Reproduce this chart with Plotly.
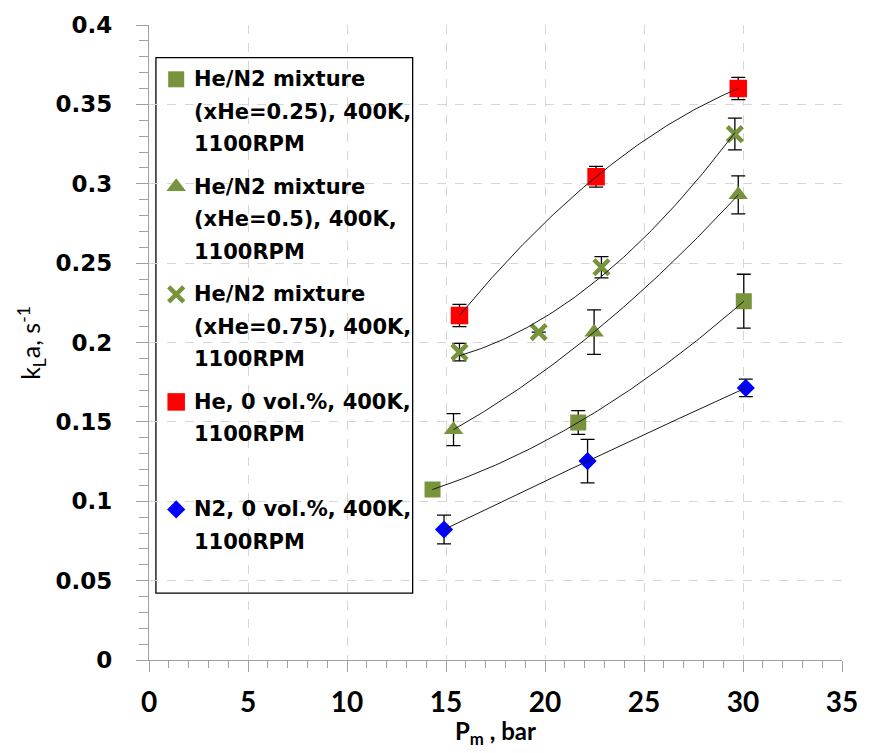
import numpy as np
import plotly.graph_objects as go

nan = float("nan")

# Mass-transfer coefficient k_L a (1/s) versus pressure P_m (bar), 400 K, 1100 RPM
p_he25 = [14.32, 21.68, 30.04]
k_he25 = [0.1074, 0.1496, 0.2260]
e_he25 = [0.0040, 0.0075, 0.0170]

p_he50 = [15.38, 22.48, 29.76]
k_he50 = [0.1451, 0.2065, 0.2930]
e_he50 = [0.0101, 0.0140, 0.0120]

p_he75 = [15.68, 19.68, 22.85, 29.59]
k_he75 = [0.1939, 0.2065, 0.2474, 0.3313]
e_he75 = [0.0055, nan, 0.0067, 0.0100]

p_he = [15.68, 22.58, 29.76]
k_he = [0.2170, 0.3044, 0.3600]
e_he = [0.0070, 0.0065, 0.0070]

p_n2 = [14.90, 22.15, 30.14]
k_n2 = [0.0822, 0.1253, 0.1714]
e_n2 = [0.0091, 0.0137, 0.0055]

legend_labels = [
    ["He/N2 mixture", "(xHe=0.25), 400K,", "1100RPM"],
    ["He/N2 mixture", "(xHe=0.5), 400K,", "1100RPM"],
    ["He/N2 mixture", "(xHe=0.75), 400K,", "1100RPM"],
    ["He, 0 vol.%, 400K,", "1100RPM"],
    ["N2, 0 vol.%, 400K,", "1100RPM"],
]

x_ticks = [0, 5, 10, 15, 20, 25, 30, 35]
y_ticks = [0, 0.05, 0.1, 0.15, 0.2, 0.25, 0.3, 0.35, 0.4]
y_tick_labels = ["0", "0.05", "0.1", "0.15", "0.2", "0.25", "0.3", "0.35", "0.4"]

GREEN = "#77933c"
RED = "#ff0000"
BLUE = "#0000ff"

m_sq_green = dict(symbol="square", size=16, color=GREEN)
m_tri = dict(symbol="triangle-up", size=17, color=GREEN)
m_x = dict(symbol="x-thin", size=15, color=GREEN, line=dict(color=GREEN, width=4.5))
m_sq_red = dict(symbol="square", size=17.5, color=RED)
m_dia = dict(symbol="diamond", size=14, color=BLUE)

series = [
    (p_he25, k_he25, e_he25, m_sq_green),
    (p_he50, k_he50, e_he50, m_tri),
    (p_he75, k_he75, e_he75, m_x),
    (p_he, k_he, e_he, m_sq_red),
    (p_n2, k_n2, e_n2, m_dia),
]

fig = go.Figure()

# data points with error bars
for p, k, e, m in series:
    fig.add_trace(go.Scatter(
        x=p, y=k, mode="markers", marker=m, showlegend=False,
        error_y=dict(type="data", array=e, visible=True, color="black",
                     thickness=1.3, width=7),
        hoverinfo="x+y",
    ))

# second-order polynomial trendlines
for p, k, e, m in series:
    c = np.polyfit(p, k, 2)
    xs = np.linspace(min(p), max(p), 120)
    fig.add_trace(go.Scatter(
        x=xs, y=np.polyval(c, xs), mode="lines",
        line=dict(color="#1a1a1a", width=1), showlegend=False, hoverinfo="skip",
    ))

# legend box drawn in pixel units over the plot area
PX_L, PX_R, PX_T, PX_B = 149, 850, 24, 660
BOX = dict(x0=156, x1=415.7, y0=56.7, y1=593)
FIRST_LINE = 78.4
ENTRY_STEP = 107.7
LINE_STEP = 32.5
SWATCH_X = 176.5
TEXT_X = 192.5

for i, lines in enumerate(legend_labels):
    y0 = FIRST_LINE + i * ENTRY_STEP
    for j, line in enumerate(lines):
        fig.add_annotation(
            xref="x2", yref="y2", x=TEXT_X, y=y0 + j * LINE_STEP,
            xanchor="left", yanchor="middle", text=line, showarrow=False,
            font=dict(family="DejaVu Sans", size=21, color="black", weight="bold"),
        )
    fig.add_trace(go.Scatter(
        x=[SWATCH_X], y=[y0], xaxis="x2", yaxis="y2", mode="markers",
        marker=series[i][3], showlegend=False, hoverinfo="skip",
    ))

fig.add_shape(type="rect", xref="x2", yref="y2", layer="below",
              line=dict(color="black", width=1.3), fillcolor="white", **BOX)

fig.add_annotation(
    xref="paper", yref="paper", x=(30 - PX_L) / (PX_R - PX_L), y=0.5,
    text="k<sub>L</sub>a, s<sup>-1</sup>", textangle=-90, showarrow=False,
    xanchor="center", yanchor="middle",
    font=dict(family="Lato", size=25, color="black"),
)
fig.add_annotation(
    xref="paper", yref="paper", x=0.5, y=(PX_B - 733) / (PX_B - PX_T),
    text="P<sub>m</sub> , bar", showarrow=False,
    xanchor="center", yanchor="middle",
    font=dict(family="Lato", size=24, color="black", weight="bold"),
)

AX_GREY = "#a0a0a0"
fig.update_layout(
    width=870, height=753,
    margin=dict(l=PX_L, r=870 - PX_R, t=PX_T, b=753 - PX_B),
    paper_bgcolor="white", plot_bgcolor="rgba(0,0,0,0)",
    xaxis=dict(
        range=[0, 35], tickvals=x_ticks, showgrid=True, gridcolor="#d6d6d6",
        griddash="dash", gridwidth=1, zeroline=False, showline=True,
        linecolor=AX_GREY, linewidth=1.3, ticks="outside", ticklen=11,
        tickcolor=AX_GREY, tickwidth=1.3, ticklabelstandoff=6,
        minor=dict(dtick=1, ticks="outside", ticklen=7, tickcolor=AX_GREY,
                   tickwidth=1.3, showgrid=False),
        tickfont=dict(family="Lato", size=28, color="black", weight="bold"),
    ),
    yaxis=dict(
        range=[0, 0.4], tickvals=y_ticks, ticktext=y_tick_labels, showgrid=True,
        gridcolor="#d6d6d6", griddash="dash", gridwidth=1, zeroline=False,
        showline=True, linecolor=AX_GREY, linewidth=1.3, ticks="outside",
        ticklen=12, tickcolor=AX_GREY, tickwidth=1.3, ticklabelstandoff=19,
        minor=dict(dtick=0.01, ticks="outside", ticklen=9, tickcolor=AX_GREY,
                   tickwidth=1.3, showgrid=False),
        tickfont=dict(family="DejaVu Sans", size=23, color="black", weight="bold"),
    ),
    xaxis2=dict(range=[PX_L, PX_R], overlaying="x", anchor="y2", visible=False,
                fixedrange=True),
    yaxis2=dict(range=[PX_B, PX_T], overlaying="y", anchor="x2", visible=False,
                fixedrange=True),
)

fig.write_html("out.html")
